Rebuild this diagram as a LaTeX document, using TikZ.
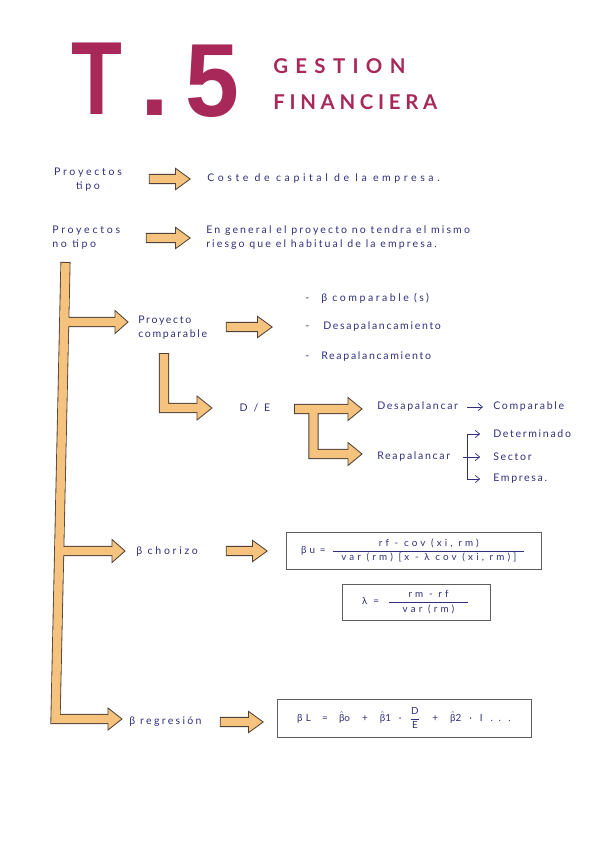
\documentclass[tikz,border=0pt]{standalone}
\usepackage{amsmath}
\usepackage{fontspec}
\usetikzlibrary{arrows.meta,positioning,shapes.arrows}
\setmainfont{Lato}
\newfontfamily\hand{Lato}[LetterSpace=16]
\newfontfamily\blockfont{Liberation Sans}
\definecolor{Ink}{HTML}{30307F}
\definecolor{Crimson}{HTML}{A8285A}
\definecolor{Peach}{HTML}{F6C37F}
\definecolor{Edge}{HTML}{4F4136}
\definecolor{Frame}{HTML}{5E5E5E}
\newcommand{\ls}[1]{\addfontfeature{LetterSpace=#1}}
\tikzset{hw/.style={font=\hand\fontsize{7.5}{10}\selectfont,text=Ink,inner sep=0pt,anchor=west,align=left},blk/.style={single arrow,draw=Edge,fill=Peach,line width=.6pt,inner xsep=0pt,inner ysep=1.05mm,single arrow head extend=1.5mm,single arrow tip angle=72},frm/.style={draw=Frame,line width=.6pt,inner sep=0pt,font=\hand\fontsize{7}{8}\selectfont,text=Ink},tarr/.style={-{Straight Barb[length=1.1mm,width=1.8mm]},draw=Ink,line width=.5pt}}

\begin{document}
\begin{tikzpicture}[
  x=.25mm,y=-.25mm,
  ahead/.style={draw=Edge,fill=Peach,line width=.6pt,line join=miter},
  ttl/.style={font=\bfseries\fontsize{14.5}{16}\selectfont,text=Crimson,inner sep=0pt,anchor=west},
  big/.style={font=\blockfont\bfseries\fontsize{74}{80}\selectfont,text=Crimson,inner sep=0pt}
]
\useasboundingbox (0,0) rectangle (603,848);
\fill[white] (0,0) rectangle (603,848);

\node[big] (tT) at (97,79) {\scalebox{.8}[1]{T}};
\node[big] (tDot) at (154.5,108) {.};
\node[big] (tFive) at (212,81) {\scalebox{.93}[1]{5}};
\node[ttl] (gest) at (273,66) {\ls{36}GESTION};
\node[ttl] (fin) at (273,102) {\ls{23}FINANCIERA};

\node[hw,anchor=center,align=center] (ptipo) at (88,180) {\ls{26}Proyectos\\\ls{26}tipo};
\node[blk,minimum height=10.25mm] (a1) at (166.5,179) {};
\node[hw] (coste) at (207,179) {\ls{34}Coste de capital de la empresa.};

\node[hw] (pnotipo) at (52,238) {\ls{26}Proyectos\\\ls{26}no tipo};
\node[blk,minimum height=11mm] (a2) at (165,238) {};
\node[hw] (riesgo) at (206,238) {\ls{20}En general el proyecto no tendra el mismo\\\ls{20}riesgo que el habitual de la empresa.};

\draw[line width=2.52mm,draw=Edge] (65.5,262) -- (55.5,719) -- (108,719)
  (64.3,322) -- (115,322) (59.2,551) -- (112,551)
  (164,353) -- (164,408) -- (197,408)
  (294,409) -- (348,409) (313.5,409) -- (313.5,454) -- (348,454);
\foreach \x/\y/\l/\h in {108/719/14/11,115/322/13/11.5,112/551/13/11.5,197/408/15/12,348/409/14/11.5,348/454/14/11.5}
  \draw[ahead] (\x,\y-\h) -- (\x+\l,\y) -- (\x,\y+\h) -- cycle;
\draw[line width=2.1mm,draw=Peach] (65.5,263) -- (55.5,719) -- (110,719)
  (64.3,322) -- (117,322) (59.2,551) -- (114,551)
  (164,354) -- (164,408) -- (199,408)
  (295,409) -- (350,409) (313.5,409) -- (313.5,454) -- (350,454);

\node[hw] (pcomp) at (138,328) {Proyecto\\comparable};
\node[blk,minimum height=11.5mm] (a3) at (246,327) {};
\node[hw] (lbeta) at (305,298) {\ls{24}\makebox[4mm][l]{-}β comparable (s)};
\node[hw] (ldesap) at (305,327) {\makebox[4.5mm][l]{-}Desapalancamiento};
\node[hw] (lreap) at (305,357) {\makebox[4mm][l]{-}Reapalancamiento};

\node[hw,anchor=center] (de) at (255,408) {\ls{30}D / E};
\node[hw] (desap) at (377,407) {Desapalancar};
\node[hw] (comp) at (493,407) {Comparable};
\draw[tarr] ([xshift=-6.5mm]comp.west) -- ([xshift=-2.5mm]comp.west);

\node[hw] (reap) at (377,457) {Reapalancar};
\node[hw] (det) at (493,434) {Determinado};
\node[hw] (sect) at (493,457) {Sector};
\node[hw] (emp) at (493,479) {Empresa.};
\coordinate (fk) at (467,457);
\draw[tarr,shorten >=3.2mm] ([xshift=-1mm]fk) -- (sect.west);
\draw[tarr,shorten >=3.2mm] (fk) |- (det.west);
\draw[tarr,shorten >=3.2mm] (fk) |- (emp.west);

\node[hw] (bchor) at (136,552) {\ls{26}β chorizo};
\node[blk,minimum height=10.25mm] (a4) at (243.5,551) {};
\node[frm,minimum width=63.75mm,minimum height=9.25mm] (fbu) at (413.5,550.5)
  {\ls{32}$\text{βu\hspace{1.2mm}=\hspace{1.5mm}}\dfrac{\text{rf - cov (xi, rm)}}{\text{\hspace{2mm}var (rm) [x - λ cov (xi, rm)]\hspace{2mm}}}$};
\node[frm,minimum width=37mm,minimum height=9mm] (flam) at (416,602)
  {\ls{32}$\text{λ\hspace{1.5mm}=\hspace{2mm}}\dfrac{\text{rm - rf}}{\text{\hspace{3.5mm}var (rm)\hspace{3.5mm}}}$\hspace{5.5mm}};

\node[hw] (breg) at (129,722) {\ls{22}β regresión};
\node[blk,minimum height=10.75mm] (a5) at (238.5,722) {};
\node[frm,minimum width=63.5mm,minimum height=9.5mm] (fbl) at (404,718)
  {\ls{32}$\text{βL\hspace{2.8mm}=\hspace{2.8mm}}\hat{\text{β}}\text{o\hspace{3mm}+\hspace{3mm}}\hat{\text{β}}\text{1\hspace{2mm}·\hspace{2mm}}\dfrac{\text{D}}{\text{E}}\text{\hspace{3mm}+\hspace{3mm}}\hat{\text{β}}\text{2\hspace{2mm}·\hspace{2mm}I\hspace{2mm}. . .}$};
\end{tikzpicture}
\end{document}
